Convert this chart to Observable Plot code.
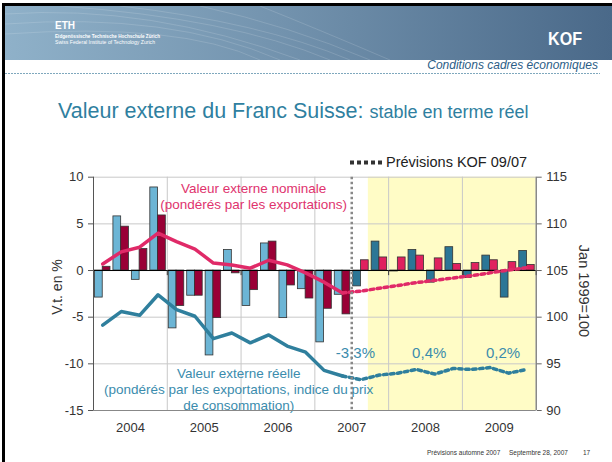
<!DOCTYPE html>
<html><head><meta charset="utf-8">
<script src="https://cdn.jsdelivr.net/npm/d3@7"></script>
<script src="https://cdn.jsdelivr.net/npm/@observablehq/plot@0.6"></script>
<style>
body{margin:0;background:#fff;font-family:"Liberation Sans",Arial,sans-serif;}
#page{position:relative;width:612px;height:462px;overflow:hidden;}
#bg{position:absolute;left:0;top:0;}
#chart{position:absolute;left:0;top:140px;}
</style></head><body>
<div id="page">
<svg id="bg" width="612" height="462" font-family="Liberation Sans, Arial, sans-serif">
<defs>
<linearGradient id="ban" x1="0" x2="1" y1="0" y2="0">
<stop offset="0" stop-color="#8fb1c9"/>
<stop offset="0.45" stop-color="#7393ae"/>
<stop offset="1" stop-color="#4a6989"/>
</linearGradient>
</defs>
<rect x="5" y="6" width="607" height="54" fill="url(#ban)"/>
<g fill="none" stroke="#fff" stroke-opacity="0.14" stroke-width="1">
<path d="M5 14 Q150 4 300 60"/><path d="M5 24 Q170 12 280 60"/><path d="M5 34 Q180 22 260 60"/>
<path d="M60 6 Q230 18 330 60"/><path d="M120 6 Q260 22 350 60"/><path d="M200 6 Q290 26 370 60"/>
<path d="M260 6 Q320 30 390 60"/>
</g>
<rect x="2" y="3" width="610" height="3" fill="#000"/>
<rect x="2" y="3" width="3" height="459" fill="#000"/>
<text x="55" y="29" fill="#fff" font-weight="bold" font-size="10" textLength="20" lengthAdjust="spacingAndGlyphs">ETH</text>
<text x="55" y="38" fill="#fff" font-weight="bold" font-size="5.5" textLength="105" lengthAdjust="spacingAndGlyphs">Eidgenössische Technische Hochschule Zürich</text>
<text x="55" y="44" fill="#fff" font-size="5" textLength="100" lengthAdjust="spacingAndGlyphs">Swiss Federal Institute of Technology Zurich</text>
<text x="548" y="45" fill="#fff" font-weight="bold" font-size="18" textLength="34" lengthAdjust="spacingAndGlyphs">KOF</text>
<text x="598" y="69" text-anchor="end" font-style="italic" font-size="12" fill="#2b5d86">Conditions cadres économiques</text>
<line x1="5" x2="600" y1="73.5" y2="73.5" stroke="#7fa8bd" stroke-dasharray="2,1" stroke-width="1"/>
<text x="58" y="117.5" fill="#2f7fa0" font-size="21.5">Valeur externe du Franc Suisse: <tspan font-size="18">stable en terme réel</tspan></text>
<line x1="350" x2="385" y1="162.5" y2="162.5" stroke="#333" stroke-width="4" stroke-dasharray="4,3"/>
<text x="386" y="167" fill="#222" font-size="14.5">Prévisions KOF 09/07</text>
<text transform="translate(62,287) rotate(-90)" text-anchor="middle" font-size="14" fill="#333">V.t. en %</text>
<text transform="translate(579,291) rotate(90)" text-anchor="middle" font-size="14.5" fill="#333">Jan 1999=100</text>
<g font-size="6.5" fill="#333">
<text x="427" y="455">Prévisions automne 2007</text>
<text x="509" y="455">Septembre 28, 2007</text>
<text x="583" y="455">17</text>
</g>
</svg>
<div id="chart"></div>
</div>
<script>
const quarters = ["2004Q1","2004Q2","2004Q3","2004Q4","2005Q1","2005Q2","2005Q3","2005Q4",
  "2006Q1","2006Q2","2006Q3","2006Q4","2007Q1","2007Q2","2007Q3","2007Q4",
  "2008Q1","2008Q2","2008Q3","2008Q4","2009Q1","2009Q2","2009Q3","2009Q4"];
const years = ["2004","2005","2006","2007","2008","2009"];
// y/y change in %, real (blue bars) and nominal (red bars)
const realChange = [-2.9, 5.8, -1.0, 8.9, -6.2, -2.7, -9.1, 2.2, -3.8, 2.9, -5.1, -2.0,
  -7.7, -2.6, -1.7, 3.1, -0.1, 2.2, -1.3, 2.5, -0.8, 1.6, -2.9, 2.1];
const nominalChange = [0.4, 4.7, 2.3, 5.9, -3.8, -2.7, -5.1, -0.3, -2.1, 3.1, -1.6, -3.0,
  -4.1, -4.7, 1.1, 1.4, 1.4, 1.6, 1.3, 0.7, 0.8, 1.1, 0.9, 0.6];
// index, Jan 1999 = 100 (right axis)
const nominalIndex = [105.7, 107.0, 107.5, 109.0, 108.1, 107.3, 105.8, 105.6, 105.25, 106.1, 105.6, 104.75,
  103.75, 102.6, 102.8, 103.1, 103.4, 103.7, 103.95, 104.2, 104.45, 104.75, 105.05, 105.3];
const realIndex = [99.15, 100.6, 100.2, 102.4, 100.8, 100.1, 97.7, 98.3, 97.25, 98.1, 96.9, 96.25,
  94.3, 93.7, 93.3, 93.8, 94.0, 94.4, 93.9, 94.5, 94.4, 94.6, 94.0, 94.4];
const leftTicks = [-15, -10, -5, 0, 5, 10];
const rightTicks = [90, 95, 100, 105, 110, 115];
const growthLabels = ["-3,3%", "0,4%", "0,2%"];
const growthYears = ["2007", "2008", "2009"];
const lastActual = "2007Q2";
const shadeFrom = "2007Q4";
const nominalLabel = "Valeur externe nominale\n(pondérés par les exportations)";
const realLabel = "Valeur externe réelle\n(pondérés par les exportations, indice du prix\nde consommation)";

const base = 105; // right-axis value at 0 on left axis
const N = quarters.length;
const histEnd = quarters.indexOf(lastActual);
const data = quarters.map((q, i) => ({q, i, real: realChange[i], nominal: nominalChange[i],
  nomIdx: nominalIndex[i] - base, realIdx: realIndex[i] - base}));
const hist = data.filter(d => d.i <= histEnd);
const fc = data.filter(d => d.i >= histEnd);
const histBars = data.filter(d => d.i <= histEnd);
const fcBars = data.filter(d => d.i > histEnd);
const yearBounds = d3.range(0, N + 1, 4);
const yearMid = years.map((y, k) => 4 * k + 2);
const yMin = leftTicks[0], yMax = leftTicks[leftTicks.length - 1];
const shade = [{x1: quarters.indexOf(shadeFrom) - 0.1, x2: N, y1: yMin, y2: yMax}];
const growth = growthLabels.map((t, k) => ({t, x: 4 * years.indexOf(growthYears[k]) + 2.2, y: -8.86}));

const C = {lb: "#6cb5d5", dr: "#990036", db: "#2c7696", pk: "#e0215f",
  pline: "#e02a68", tline: "#2f7f9d", ptext: "#e0336e", ttext: "#3b8cad", grid: "#c8c8c8"};

const chart = Plot.plot({
  width: 612, height: 310,
  marginLeft: 93, marginRight: 76.3, marginTop: 36.7, marginBottom: 40,
  style: {background: "transparent", fontFamily: "Liberation Sans, Arial, sans-serif", fontSize: "13px", color: "#333", overflow: "visible"},
  x: {domain: [0, N], axis: null},
  y: {domain: [yMin, yMax], axis: null},
  marks: [
    Plot.rect(shade, {x1: "x1", x2: "x2", y1: "y1", y2: "y2", fill: "#fffcc6"}),
    Plot.gridY(leftTicks, {stroke: C.grid, strokeOpacity: 1}),
    Plot.gridX(yearBounds, {stroke: C.grid, strokeOpacity: 1}),
    Plot.text([{t: nominalLabel, x: 8.68, y: 7.98}], {x: "x", y: "y", text: "t", fill: C.ptext, fontSize: 13.5, lineHeight: 1.13}),
    Plot.text([{t: realLabel, x: 7.87, y: -12.7}], {x: "x", y: "y", text: "t", fill: C.ttext, fontSize: 13.5, lineHeight: 1.2}),
    Plot.text(growth, {x: "x", y: "y", text: "t", fill: C.ttext, fontSize: 15}),
    Plot.rect(histBars, {x1: d => d.i + 0.08, x2: d => d.i + 0.5, y1: () => 0, y2: "real", fill: C.lb, stroke: "#333", strokeWidth: 0.8}),
    Plot.rect(histBars, {x1: d => d.i + 0.5, x2: d => d.i + 0.92, y1: () => 0, y2: "nominal", fill: C.dr, stroke: "#333", strokeWidth: 0.8}),
    Plot.rect(fcBars, {x1: d => d.i + 0.08, x2: d => d.i + 0.5, y1: () => 0, y2: "real", fill: C.db, stroke: "#333", strokeWidth: 0.8}),
    Plot.rect(fcBars, {x1: d => d.i + 0.5, x2: d => d.i + 0.92, y1: () => 0, y2: "nominal", fill: C.pk, stroke: "#333", strokeWidth: 0.8}),
    Plot.ruleY([0], {stroke: "#000", strokeWidth: 1}),
    Plot.ruleX(yearBounds, {y1: () => 0, y2: () => -0.55, stroke: "#333"}),
    Plot.ruleX([0], {stroke: "#555"}),
    Plot.ruleX([N], {stroke: "#666"}),
    Plot.ruleY([yMin], {stroke: "#888"}),
    Plot.line(hist, {x: d => d.i + 0.5, y: "nomIdx", stroke: C.pline, strokeWidth: 3.5, strokeLinejoin: "round"}),
    Plot.line(fc, {x: d => d.i + 0.5, y: "nomIdx", stroke: C.pline, strokeWidth: 3.5, strokeDasharray: "3.5,3.5"}),
    Plot.line(hist, {x: d => d.i + 0.5, y: "realIdx", stroke: C.tline, strokeWidth: 3.5, strokeLinejoin: "round"}),
    Plot.line(fc, {x: d => d.i + 0.5, y: "realIdx", stroke: C.tline, strokeWidth: 3.5, strokeDasharray: "3.5,3.5"}),
    Plot.ruleX([histEnd + 1], {stroke: "#888", strokeWidth: 2.5, strokeDasharray: "2.5,2.5"}),
    Plot.axisY({anchor: "left", ticks: leftTicks, tickFormat: d => String(d), tickSize: 5, tickPadding: 5, fontSize: 13, label: null, stroke: "#555"}),
    Plot.axisY({anchor: "right", ticks: rightTicks.map(v => v - base), tickFormat: d => String(d + base), tickSize: 5, tickPadding: 5, fontSize: 13, label: null, stroke: "#666"}),
    Plot.axisX({ticks: yearMid, tickFormat: d => years[(d - 2) / 4], tickSize: 0, tickPadding: 12, fontSize: 13, label: null})
  ]
});
document.getElementById("chart").appendChild(chart);
</script>
</body></html>
